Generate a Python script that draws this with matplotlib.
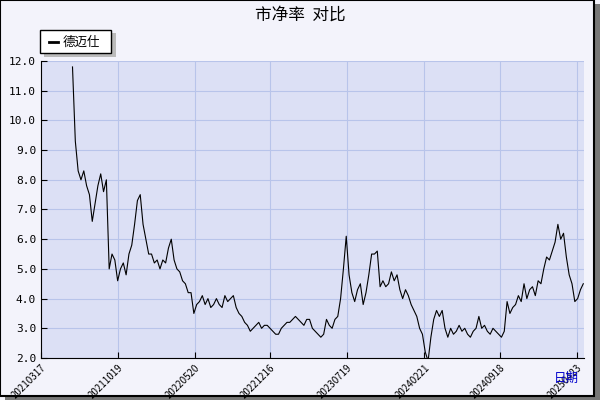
import matplotlib
matplotlib.use("Agg")
import matplotlib.pyplot as plt
import matplotlib.dates as mdates
import pandas as pd
from matplotlib.patches import Rectangle

plt.rcParams['font.family'] = ['Noto Sans CJK SC', 'DejaVu Sans']

series_name = "德迈仕"
title = "市净率  对比"
start_date = "2021-06-13"
end_date = "2025-05-10"
tick_labels = ["20210317", "20211019", "20220520", "20221216", "20230719",
               "20240221", "20240918", "20250423"]
values = [11.8, 9.3, 8.3, 8.0, 8.3, 7.8, 7.5, 6.6, 7.2, 7.8, 8.2, 7.6, 8.0, 5.0, 5.5, 5.3,
          4.6, 5.0, 5.2, 4.8, 5.5, 5.8, 6.5, 7.3, 7.5, 6.5, 6.0, 5.5, 5.5, 5.2, 5.3, 5.0,
          5.3, 5.2, 5.7, 6.0, 5.3, 5.0, 4.9, 4.6, 4.5, 4.2, 4.2, 3.5, 3.8, 3.9, 4.1, 3.8,
          4.0, 3.7, 3.8, 4.0, 3.8, 3.7, 4.1, 3.9, 4.0, 4.1, 3.7, 3.5, 3.4, 3.2, 3.1, 2.9,
          3.0, 3.1, 3.2, 3.0, 3.1, 3.1, 3.0, 2.9, 2.8, 2.8, 3.0, 3.1, 3.2, 3.2, 3.3, 3.4,
          3.3, 3.2, 3.1, 3.3, 3.3, 3.0, 2.9, 2.8, 2.7, 2.8, 3.3, 3.1, 3.0, 3.3, 3.4, 4.0,
          5.0, 6.1, 4.8, 4.2, 3.9, 4.3, 4.5, 3.8, 4.2, 4.8, 5.5, 5.5, 5.6, 4.4, 4.6, 4.4,
          4.5, 4.9, 4.6, 4.8, 4.3, 4.0, 4.3, 4.1, 3.8, 3.6, 3.4, 3.0, 2.8, 2.2, 1.9, 2.7,
          3.3, 3.6, 3.4, 3.6, 3.0, 2.7, 3.0, 2.8, 2.9, 3.1, 2.9, 3.0, 2.8, 2.7, 2.9, 3.0,
          3.4, 3.0, 3.1, 2.9, 2.8, 3.0, 2.9, 2.8, 2.7, 2.9, 3.9, 3.5, 3.7, 3.8, 4.1, 3.9,
          4.5, 4.0, 4.3, 4.4, 4.1, 4.6, 4.5, 5.0, 5.4, 5.3, 5.6, 5.9, 6.5, 6.0, 6.2, 5.4,
          4.8, 4.5, 3.9, 4.0, 4.3, 4.5]

dates = pd.date_range(start_date, end_date, periods=len(values))
tick_dates = pd.to_datetime(tick_labels, format="%Y%m%d")

fig = plt.figure(figsize=(6, 4), dpi=100, facecolor="#f3f3fb")
# border + shadow
fig.patches.append(Rectangle((0.008, 0.0), 0.992, 0.99, transform=fig.transFigure,
                             facecolor="#777777", edgecolor="none", zorder=-2))
fig.patches.append(Rectangle((0.0, 0.01), 0.99, 0.99, transform=fig.transFigure,
                             facecolor="#f3f3fb", edgecolor="black", lw=1.5, zorder=-1))

ax = fig.add_axes([41/600, 42/400, 543/600, 297/400])
ax.set_facecolor("#dce0f5")
ax.plot(dates, values, color="black", lw=0.8)
ax.set_ylim(2, 12)
ax.set_yticks([2 + i for i in range(11)])
ax.set_yticklabels([f"{2 + i:.1f}" for i in range(11)], fontsize=8, family="DejaVu Sans Mono")
ax.set_xlim(tick_dates[0], pd.Timestamp("2025-05-12"))
ax.set_xticks(tick_dates)
ax.set_xticklabels(tick_labels, rotation=45, fontsize=7, ha="right", rotation_mode="anchor")
ax.grid(True, color="#b8c4ea", lw=0.8)
ax.tick_params(direction="in", length=4)
for s in ax.spines.values():
    s.set_visible(False)
ax.spines['left'].set_visible(True)
ax.spines['bottom'].set_visible(True)

fig.text(0.5, 0.962, title, ha="center", va="center", fontsize=12)
fig.text(0.965, 0.055, "日期", ha="right", va="center", fontsize=9, color="#0000cc")

# legend box
fig.patches.append(Rectangle((44/600, 343/400), 72/600, 24/400, transform=fig.transFigure,
                             facecolor="#bbbbbb", edgecolor="none", zorder=2))
fig.patches.append(Rectangle((40/600, 347/400), 71/600, 23/400, transform=fig.transFigure,
                             facecolor="white", edgecolor="black", lw=1, zorder=3))
fig.lines.append(plt.Line2D([49/600, 58/600], [358/400, 358/400], transform=fig.transFigure,
                            color="black", lw=2, zorder=4))
fig.text(63/600, 358/400, series_name, va="center", fontsize=9, zorder=4)

fig.savefig("out.png", dpi=100, facecolor=fig.get_facecolor())
